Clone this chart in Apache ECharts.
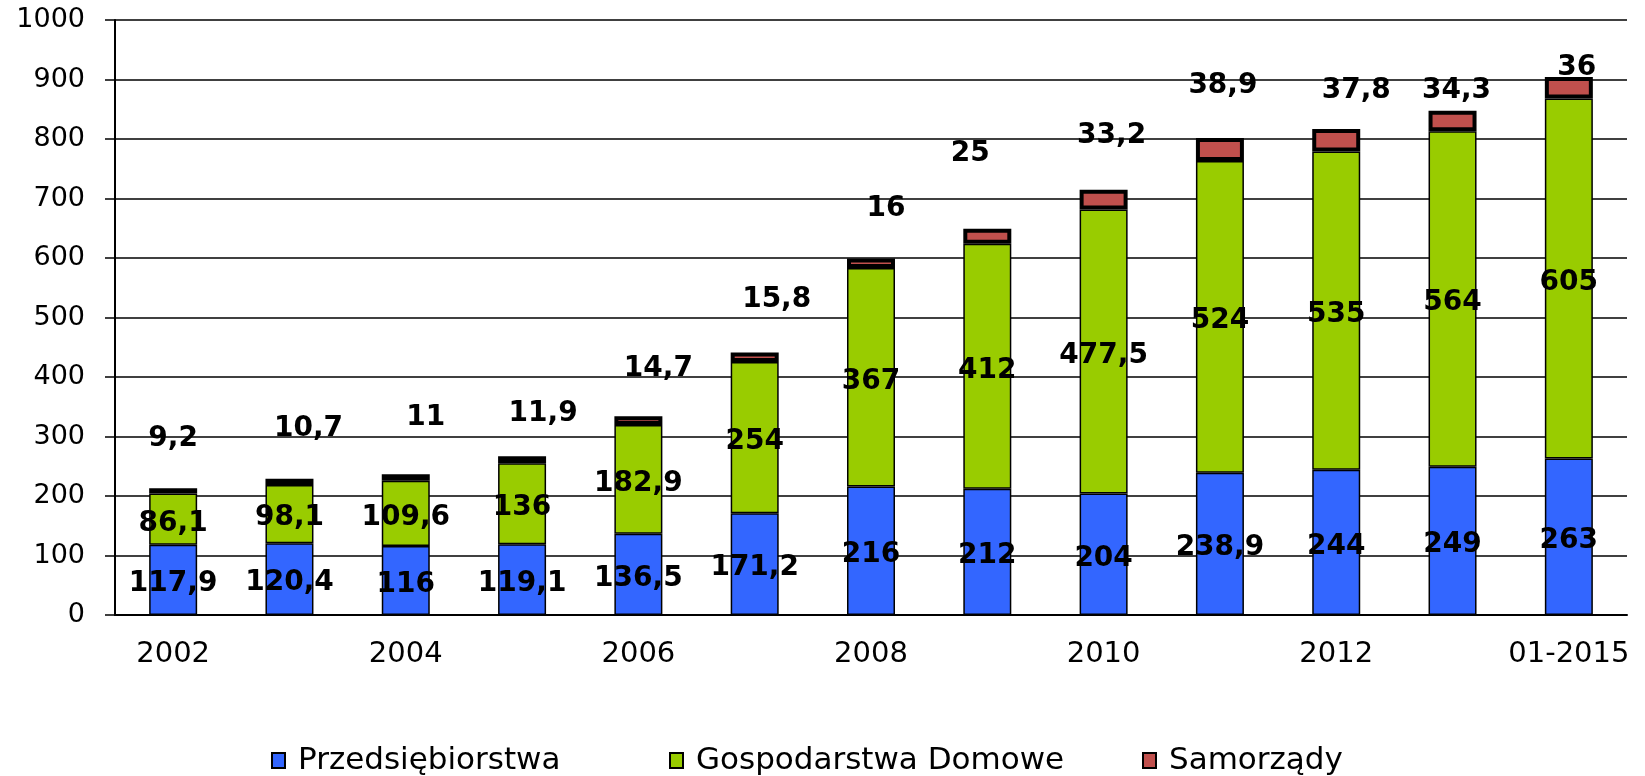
<!DOCTYPE html>
<html>
<head>
<meta charset="utf-8">
<title>Kredyty</title>
<script src="https://cdn.jsdelivr.net/npm/echarts@6/dist/echarts.min.js"></script>
<style>
  html, body { margin: 0; padding: 0; background: #fff; }
  #chart { width: 1645px; height: 776px; }
</style>
</head>
<body>
<div id="chart"></div>
<script>
// kategorie na osi X
const categories = ['2002', '2003', '2004', '2005', '2006', '2007', '2008', '2009', '2010', '2011', '2012', '2013', '01-2015']
const seriesNames = ['Przedsiębiorstwa', 'Gospodarstwa Domowe', 'Samorządy']

// wartości serii
const przedsiebiorstwa = [117.9, 120.4, 116, 119.1, 136.5, 171.2, 216, 212, 204, 238.9, 244, 249, 263]
const gospodarstwa = [86.1, 98.1, 109.6, 136, 182.9, 254, 367, 412, 477.5, 524, 535, 564, 605]
const samorzady = [9.2, 10.7, 11, 11.9, 14.7, 15.8, 16, 25, 33.2, 38.9, 37.8, 34.3, 36]

// przesunięcia etykiet samorządów (px) - w oryginale ustawione ręcznie
const redLabelDx = [0, 19, 20, 21, 20, 22, 15, -17, 8, 3, 20, 4, 8]
const redLabelDy = [-35, -36, -43, -28, -33, -39, -36, -61, -40, -38, -24, -6, 5]

const colors = ['#3366FF', '#99CC00', '#C0504D']
const legendLeft = [271, 669, 1142]

const chart = echarts.init(document.getElementById('chart'))

// wspólny styl etykiet danych
function labelStyle(extra) {
  return Object.assign({
    show: true,
    color: '#000',
    fontFamily: 'DejaVu Sans',
    fontWeight: 'bold',
    fontSize: 28,
    lineHeight: 28,
    formatter: p => String(p.value).replace('.', ',')
  }, extra)
}

chart.setOption({
  animation: false,
  legend: seriesNames.map((name, i) => ({
    data: [name],
    left: legendLeft[i],
    top: 745,
    padding: 0,
    icon: 'rect',
    itemWidth: 13,
    itemHeight: 15,
    itemGap: 10,
    textStyle: { color: '#000', fontFamily: 'DejaVu Sans', fontSize: 31, padding: [0, 0, 0, 8] }
  })),
  grid: {
    left: 115,
    right: 18,
    top: 20,
    bottom: 161
  },
  xAxis: {
    type: 'category',
    data: categories,
    axisLine: { lineStyle: { color: '#000', width: 2 } },
    axisTick: { interval: 0, length: 10, lineStyle: { color: '#000', width: 2 } },
    axisLabel: {
      interval: 1,
      margin: 25,
      color: '#000',
      fontFamily: 'DejaVu Sans',
      fontSize: 29
    }
  },
  yAxis: {
    type: 'value',
    min: 0,
    max: 1000,
    interval: 100,
    axisLine: { show: true, lineStyle: { color: '#000', width: 2 } },
    axisTick: { show: true, length: 10, lineStyle: { color: '#000', width: 1.5 } },
    splitLine: { lineStyle: { color: '#000', width: 1.5 } },
    axisLabel: {
      margin: 30,
      color: '#000',
      fontFamily: 'DejaVu Sans',
      fontSize: 27,
      formatter: v => String(v)
    }
  },
  series: [
    {
      name: seriesNames[0],
      type: 'bar',
      stack: 'total',
      barWidth: 48,
      data: przedsiebiorstwa,
      itemStyle: { color: colors[0], borderColor: '#000', borderWidth: 1.5 },
      label: labelStyle({ position: 'inside', offset: [0, 4] })
    },
    {
      name: seriesNames[1],
      type: 'bar',
      stack: 'total',
      barWidth: 48,
      data: gospodarstwa,
      itemStyle: { color: colors[1], borderColor: '#000', borderWidth: 1.5 },
      label: labelStyle({ position: 'inside', offset: [0, 4] })
    },
    {
      name: seriesNames[2],
      type: 'bar',
      stack: 'total',
      barWidth: 48,
      data: samorzady.map((v, i) => ({
        value: v,
        label: { offset: [redLabelDx[i], redLabelDy[i]] }
      })),
      itemStyle: { color: colors[2], borderColor: '#000', borderWidth: 4 },
      label: labelStyle({ position: 'top', distance: 0 })
    }
  ]
})
</script>
</body>
</html>
